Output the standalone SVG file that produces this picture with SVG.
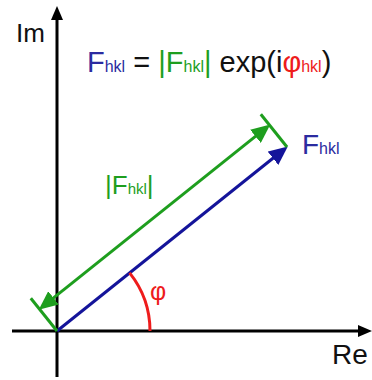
<svg xmlns="http://www.w3.org/2000/svg" width="372" height="380" viewBox="0 0 372 380">
<style>
text{font-family:"Liberation Sans",Arial,sans-serif}
.ax{stroke:#000;stroke-width:3;fill:none}
.bl{stroke:#14149a;stroke-width:3;fill:none}
.gr{stroke:#1e9e1e;stroke-width:3;fill:none}
.rd{stroke:#ee1c1c;stroke-width:3;fill:none}
.tb{fill:#2b2ba0}.tg{fill:#1e9e1e}.tr{fill:#ee1c1c}.tk{fill:#111}
</style>
<defs>
<marker id="ak" markerUnits="userSpaceOnUse" markerWidth="14" markerHeight="12" refX="2" refY="6" orient="auto" viewBox="0 0 14 12"><path d="M0,0 L14,6 L0,12 z" fill="#000"/></marker>
<marker id="ab" markerUnits="userSpaceOnUse" markerWidth="19" markerHeight="17" refX="14" refY="8.5" orient="auto" viewBox="0 0 19 17"><path d="M0,0 L19,8.5 L0,17 z" fill="#14149a"/></marker>
<marker id="ag" markerUnits="userSpaceOnUse" markerWidth="19" markerHeight="17" refX="14" refY="8.5" orient="auto-start-reverse" viewBox="0 0 19 17"><path d="M0,0 L19,8.5 L0,17 z" fill="#1e9e1e"/></marker>
</defs>
<g id="connectors">
<line id="im-axis" class="ax" x1="57" y1="377" x2="57" y2="18" marker-end="url(#ak)"/>
<line id="re-axis" class="ax" x1="12" y1="331" x2="360" y2="331" marker-end="url(#ak)"/>
<line id="f-vector" class="bl" x1="57" y1="331" x2="283.9" y2="149.5" marker-end="url(#ab)"/>
<line id="tick-bottom" class="gr" x1="57" y1="331" x2="30.8" y2="298.2"/>
<line id="tick-top" class="gr" x1="287" y1="147" x2="260.8" y2="114.2"/>
<line id="magnitude" class="gr" x1="42.6" y1="306.6" x2="266.4" y2="127.6" marker-start="url(#ag)" marker-end="url(#ag)"/>
<path id="phase-arc" class="rd" d="M150,331 A93,93 0 0 0 129.6,272.9"/>
</g>
<g id="label-im"><text x="16" y="42" font-size="26" class="tk">Im</text></g>
<g id="label-re"><text x="332" y="364" font-size="28" class="tk">Re</text></g>
<g id="formula"><text x="87" y="72" font-size="29"><tspan class="tb">F<tspan font-size="16">hkl</tspan></tspan><tspan class="tk"> = </tspan><tspan class="tg">|F<tspan font-size="16">hkl</tspan>|</tspan><tspan class="tk"> exp(i</tspan><tspan class="tr">φ<tspan font-size="16">hkl</tspan></tspan><tspan class="tk">)</tspan></text></g>
<g id="label-f"><text x="302" y="154" font-size="28" class="tb">F<tspan font-size="16">hkl</tspan></text></g>
<g id="label-mag"><text x="105" y="194" font-size="26" class="tg">|F<tspan font-size="15">hkl</tspan>|</text></g>
<g id="label-phi"><text x="150" y="300" font-size="25" class="tr">φ</text></g>
</svg>
